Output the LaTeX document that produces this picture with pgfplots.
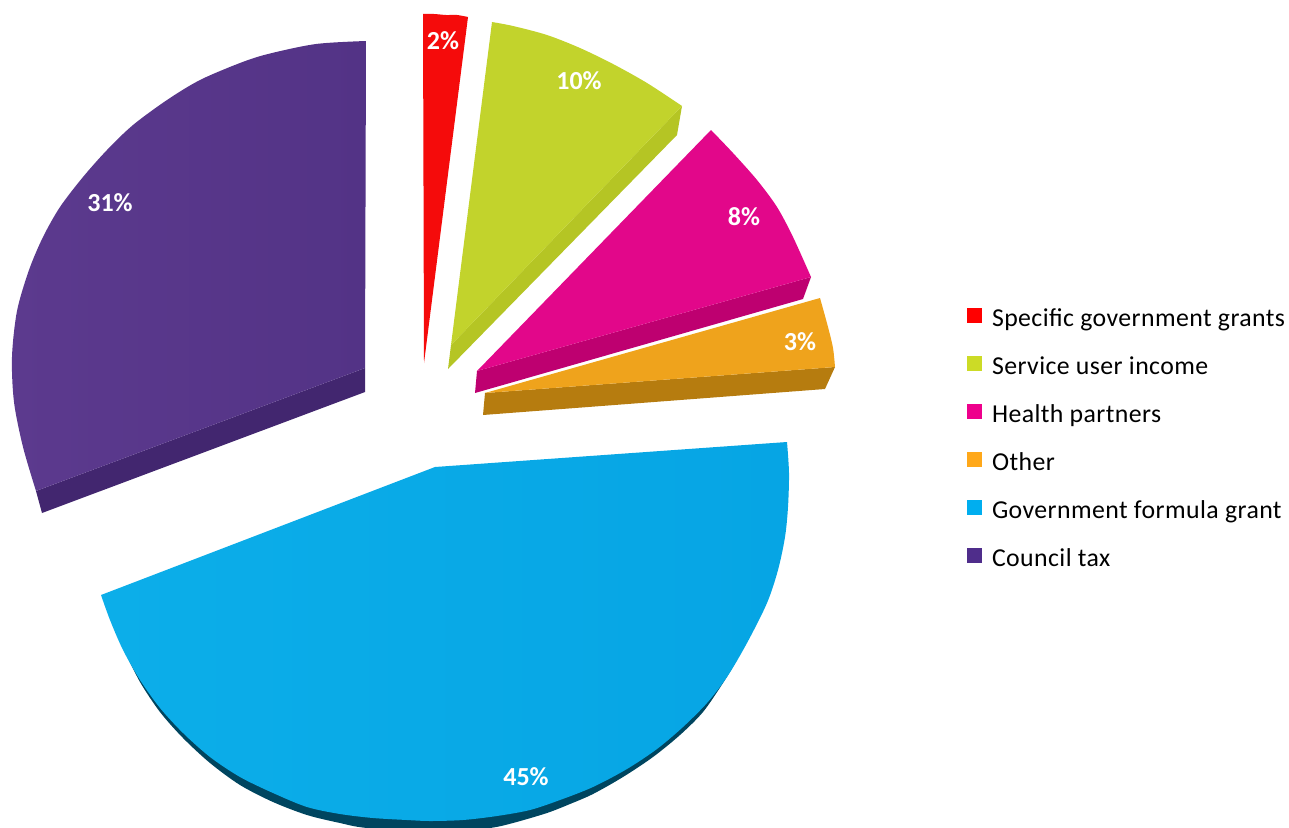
\documentclass[border=0pt]{standalone}
\usepackage{pgfplots}
\pgfplotsset{compat=1.18}
\usepackage{fontspec}
\setmainfont{Carlito}
\definecolor{redface}{HTML}{F50B0B}
\definecolor{greenface}{HTML}{C2D32C}
\definecolor{greenside}{HTML}{B5C524}
\definecolor{pinkface}{HTML}{E2078A}
\definecolor{pinkside}{HTML}{BE0070}
\definecolor{orangeface}{HTML}{EFA31C}
\definecolor{orangeside}{HTML}{B67C0F}
\definecolor{blueleft}{HTML}{0CAEE9}
\definecolor{blueright}{HTML}{06A5E4}
\definecolor{blueside}{HTML}{00455F}
\definecolor{purpleleft}{HTML}{5C3A8E}
\definecolor{purpleright}{HTML}{533386}
\definecolor{purpleside}{HTML}{42266F}
\definecolor{keyred}{HTML}{FF0000}
\definecolor{keygreen}{HTML}{CCDB26}
\definecolor{keypink}{HTML}{EE008C}
\definecolor{keyorange}{HTML}{FFA81A}
\definecolor{keyblue}{HTML}{00AEEF}
\definecolor{keypurple}{HTML}{4F2D8B}
\begin{document}
\begin{tikzpicture}
\useasboundingbox (0,0) rectangle (1289pt,827pt);
\begin{axis}[
  scale only axis, width=1289pt, height=827pt,
  xmin=0, xmax=1289, ymin=0, ymax=827, y dir=reverse,
  axis lines=none, clip=true,
  legend image code/.code={\path[#1] (0pt,-2pt) rectangle (15pt,13pt);},
  legend cell align=left,
  legend style={
    at={(axis cs:967,308)}, anchor=north west, draw=none, fill=none,
    inner sep=0pt, outer sep=0pt,
    font=\fontsize{25.8}{28}\selectfont\addfontfeatures{LetterSpace=1.6},
    nodes={inner sep=0pt, text height=16pt, text depth=6pt},
    /tikz/every odd column/.append style={column sep=10pt},
    /tikz/row sep=24pt,
  },
  every axis plot/.append style={draw=none},
]
% Council tax: side wall, then top face
\addplot[fill=purpleside, forget plot] coordinates {(36,491) (42,513) (365,392) (365,368)} --cycle;
\addplot[smooth, left color=purpleleft, right color=purpleright, forget plot] coordinates {
  (366,41) (316,44) (268,54) (240,63) (200,80) (167,100) (133,125) (107,150) (83,177)
  (60,207) (43,237) (29,270) (17,311) (12,357) (14,402) (23,447) (36,491)}
  -- (axis cs:365,368) -- cycle;
% Government formula grant: rim below the face
\addplot[smooth, fill=blueside, forget plot] coordinates {
  (123,648) (140,682) (160,712) (183,738) (210,763) (240,785) (273,802) (307,815)
  (340,823) (367,828) (440,833) (490,828) (513,823) (547,813) (570,804) (593,794)
  (623,777) (653,757) (680,735) (703,712) (723,683) (737,660)}
  -- (axis cs:400,660) -- cycle;
\addplot[smooth, left color=blueleft, right color=blueright, forget plot] coordinates {
  (101,595) (110,620) (123,650) (140,680) (160,708) (183,733) (210,757) (240,777)
  (273,793) (307,807) (340,814) (373,818) (407,820) (430,821) (463,820) (497,816)
  (530,810) (560,800) (593,787) (627,769) (657,749) (683,727) (707,703) (727,677)
  (747,643) (767,603) (778,570) (785,537) (788,507) (789,473) (787,442)}
  -- (axis cs:435,467) -- cycle;
% Service user income
\addplot[fill=greenside, forget plot] coordinates {(682,106) (677,135) (448,369) (451,345)} --cycle;
\addplot[smooth, fill=greenface, forget plot] coordinates {
  (492,22) (513,26) (547,35) (580,48) (613,64) (647,83) (682,106)}
  -- (axis cs:451,345) -- cycle;
% Health partners
\addplot[fill=pinkside, forget plot] coordinates {(811,277) (803,299) (475,393) (477,371)} --cycle;
\addplot[smooth, fill=pinkface, forget plot] coordinates {
  (711,130) (733,153) (757,180) (777,207) (793,237) (811,277)}
  -- (axis cs:477,371) -- cycle;
% Other
\addplot[fill=orangeside, forget plot] coordinates {(835,367) (825,389) (483,415) (485,393)} --cycle;
\addplot[smooth, fill=orangeface, forget plot] coordinates {
  (820,298) (828,327) (833,348) (835,367)} -- (axis cs:485,393) -- cycle;
% Specific government grants
\addplot[smooth, fill=redface, forget plot] coordinates {
  (423,14) (434,14) (446,15) (457,15) (468,17)} -- (axis cs:424,363) -- cycle;

% Percentage labels
\begin{scope}[every node/.style={text=white, font=\fontsize{26}{28}\selectfont\bfseries}]
\node at (axis cs:443,41) {2\%};
\node at (axis cs:579,81) {10\%};
\node at (axis cs:744,217) {8\%};
\node at (axis cs:800,342) {3\%};
\node at (axis cs:526,777) {45\%};
\node at (axis cs:110,203) {31\%};
\end{scope}

% Key
\addlegendimage{fill=keyred}
\addlegendentry{Specific government grants}
\addlegendimage{fill=keygreen}
\addlegendentry{Service user income}
\addlegendimage{fill=keypink}
\addlegendentry{Health partners}
\addlegendimage{fill=keyorange}
\addlegendentry{Other}
\addlegendimage{fill=keyblue}
\addlegendentry{Government formula grant}
\addlegendimage{fill=keypurple}
\addlegendentry{Council tax}
\end{axis}
\end{tikzpicture}
\end{document}
